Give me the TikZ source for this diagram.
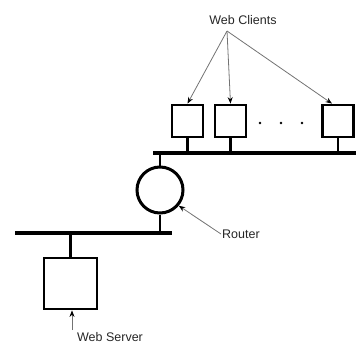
\documentclass[tikz,border=0pt]{standalone}
\usepackage{fontspec}
\setmainfont{Liberation Sans}
\usetikzlibrary{arrows.meta}
\tikzset{
  host/.style={draw=black, line width=2.8pt, fill=white, minimum width=31pt, minimum height=32pt, inner sep=0pt},
  bus/.style={line width=3.2pt},
  stub/.style={line width=2.4pt},
  pointer/.style={draw=black!55, line width=0.8pt, -{Stealth[length=6.5pt, width=5pt, black]}},
  lbl/.style={font=\fontsize{12.5}{14}\selectfont, text=black!85, inner sep=1pt}
}
\begin{document}
\begin{tikzpicture}[x=1pt, y=-1pt]
  \useasboundingbox (0,0) rectangle (356,346);

  % client network
  \coordinate (tbL) at (153,153);
  \coordinate (tbR) at (356,153);
  \draw[bus] (tbL) -- (tbR);
  \node[host] (c1) at (187.5,121) {};
  \node[host] (c2) at (230.5,121) {};
  \node[host] (c3) at (338,121) {};
  \draw[stub] (c1.south) -- (c1.south |- tbL);
  \draw[stub] (c2.south) -- (c2.south |- tbL);
  \draw[stub] (c3.south) -- (c3.south |- tbL);
  \foreach \x/\n in {260/d1, 281/d2, 302/d3}
    \node[circle, fill=black, inner sep=0pt, minimum size=2.8pt] (\n) at (\x,123) {};

  % router between the two networks
  \node[circle, draw, line width=3pt, minimum size=46pt, inner sep=0pt] (rt) at (160,190) {};
  \coordinate (bbL) at (15,233);
  \coordinate (bbR) at (172,233);
  \draw[bus] (bbL) -- (bbR);
  \draw[stub] (rt.north) -- (rt.north |- tbL);
  \draw[stub] (rt.south) -- (rt.south |- bbL);

  % server network
  \node[host, minimum width=53pt, minimum height=51pt] (srv) at (70.5,283.5) {};
  \draw[stub] (srv.north) -- (srv.north |- bbL);

  % labels and pointers
  \node[lbl] (wc) at (243,20) {Web Clients};
  \coordinate (wcp) at (227,31);
  \draw[pointer] (wcp) -- (c1.north);
  \draw[pointer] (wcp) -- (c2.north);
  \draw[pointer] (wcp) -- ([xshift=-6pt]c3.north);

  \node[lbl, anchor=west] (rl) at (221,234) {Router};
  \draw[pointer] (rl.west) -- (rt.-40);

  \node[lbl] (ws) at (110,337) {Web Server};
  \coordinate (wsp) at (72,330);
  \draw[pointer] (wsp) -- (wsp |- srv.south);
\end{tikzpicture}
\end{document}
